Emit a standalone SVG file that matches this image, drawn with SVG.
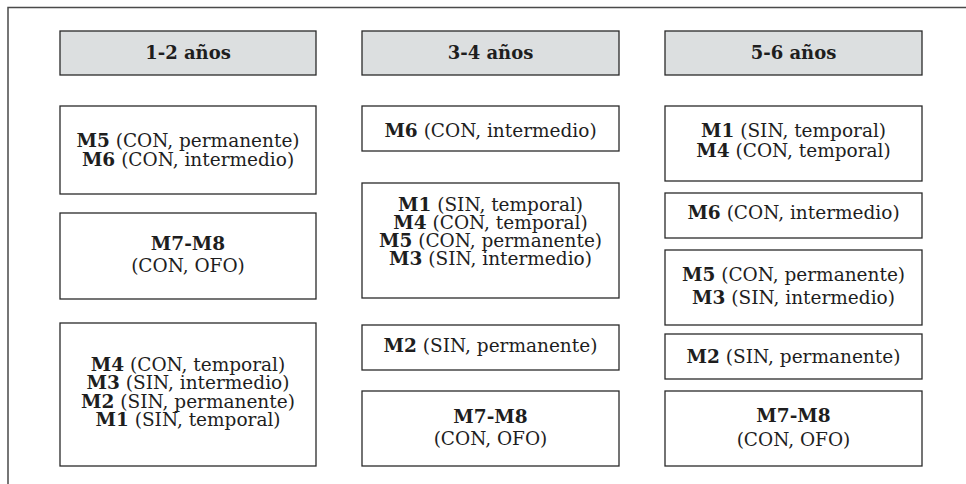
<svg xmlns="http://www.w3.org/2000/svg" width="966" height="484" viewBox="0 0 966 484">
<style>
.frame{fill:none;stroke:#4a4a4a;stroke-width:1.5}
.hd{fill:#dcdfe0;stroke:#2a2a2a;stroke-width:1.3}
.bx{fill:#fff;stroke:#2a2a2a;stroke-width:1.3}
text{font-family:"DejaVu Serif","Liberation Serif",serif;font-size:18.5px;fill:#1e1e1e;text-anchor:middle}
.h{font-weight:bold;font-size:18px}
.b{font-weight:bold}
</style>
<rect width="966" height="484" fill="#fff"/>
<path class="frame" d="M8,484 V7.5 H966"/>

<g id="h1"><rect class="hd" x="60" y="31" width="256" height="44"/><text class="h" x="188" y="59">1-2 años</text></g>
<g id="h2"><rect class="hd" x="362" y="31" width="257" height="44"/><text class="h" x="490.5" y="59">3-4 años</text></g>
<g id="h3"><rect class="hd" x="665" y="31" width="257" height="44"/><text class="h" x="793.5" y="59">5-6 años</text></g>

<g id="c1n1"><rect class="bx" x="60" y="106" width="256" height="88"/>
<text x="188" y="147"><tspan class="b">M5</tspan> (CON, permanente)</text>
<text x="188" y="166"><tspan class="b">M6</tspan> (CON, intermedio)</text></g>
<g id="c1n2"><rect class="bx" x="60" y="213" width="256" height="86"/>
<text x="188" y="250" class="b">M7-M8</text>
<text x="188" y="272">(CON, OFO)</text></g>
<g id="c1n3"><rect class="bx" x="60" y="323" width="256" height="143"/>
<text x="188" y="371"><tspan class="b">M4</tspan> (CON, temporal)</text>
<text x="188" y="389.3"><tspan class="b">M3</tspan> (SIN, intermedio)</text>
<text x="188" y="407.5"><tspan class="b">M2</tspan> (SIN, permanente)</text>
<text x="188" y="425.7"><tspan class="b">M1</tspan> (SIN, temporal)</text></g>

<g id="c2n1"><rect class="bx" x="362" y="106" width="257" height="45"/>
<text x="490.5" y="136.5"><tspan class="b">M6</tspan> (CON, intermedio)</text></g>
<g id="c2n2"><rect class="bx" x="362" y="183" width="257" height="115"/>
<text x="490.5" y="211"><tspan class="b">M1</tspan> (SIN, temporal)</text>
<text x="490.5" y="229"><tspan class="b">M4</tspan> (CON, temporal)</text>
<text x="490.5" y="247"><tspan class="b">M5</tspan> (CON, permanente)</text>
<text x="490.5" y="265"><tspan class="b">M3</tspan> (SIN, intermedio)</text></g>
<g id="c2n3"><rect class="bx" x="362" y="325" width="257" height="45"/>
<text x="490.5" y="351.7"><tspan class="b">M2</tspan> (SIN, permanente)</text></g>
<g id="c2n4"><rect class="bx" x="362" y="391" width="257" height="75"/>
<text x="490.5" y="423.3" class="b">M7-M8</text>
<text x="490.5" y="445">(CON, OFO)</text></g>

<g id="c3n1"><rect class="bx" x="665" y="106" width="257" height="75"/>
<text x="793.5" y="136.7"><tspan class="b">M1</tspan> (SIN, temporal)</text>
<text x="793.5" y="156.7"><tspan class="b">M4</tspan> (CON, temporal)</text></g>
<g id="c3n2"><rect class="bx" x="665" y="193" width="257" height="45"/>
<text x="793.5" y="219.3"><tspan class="b">M6</tspan> (CON, intermedio)</text></g>
<g id="c3n3"><rect class="bx" x="665" y="250" width="257" height="75"/>
<text x="793.5" y="280.7"><tspan class="b">M5</tspan> (CON, permanente)</text>
<text x="793.5" y="304"><tspan class="b">M3</tspan> (SIN, intermedio)</text></g>
<g id="c3n4"><rect class="bx" x="665" y="334" width="257" height="45"/>
<text x="793.5" y="362.7"><tspan class="b">M2</tspan> (SIN, permanente)</text></g>
<g id="c3n5"><rect class="bx" x="665" y="391" width="257" height="75"/>
<text x="793.5" y="422.3" class="b">M7-M8</text>
<text x="793.5" y="445.7">(CON, OFO)</text></g>

<g id="connectors"></g>
</svg>
